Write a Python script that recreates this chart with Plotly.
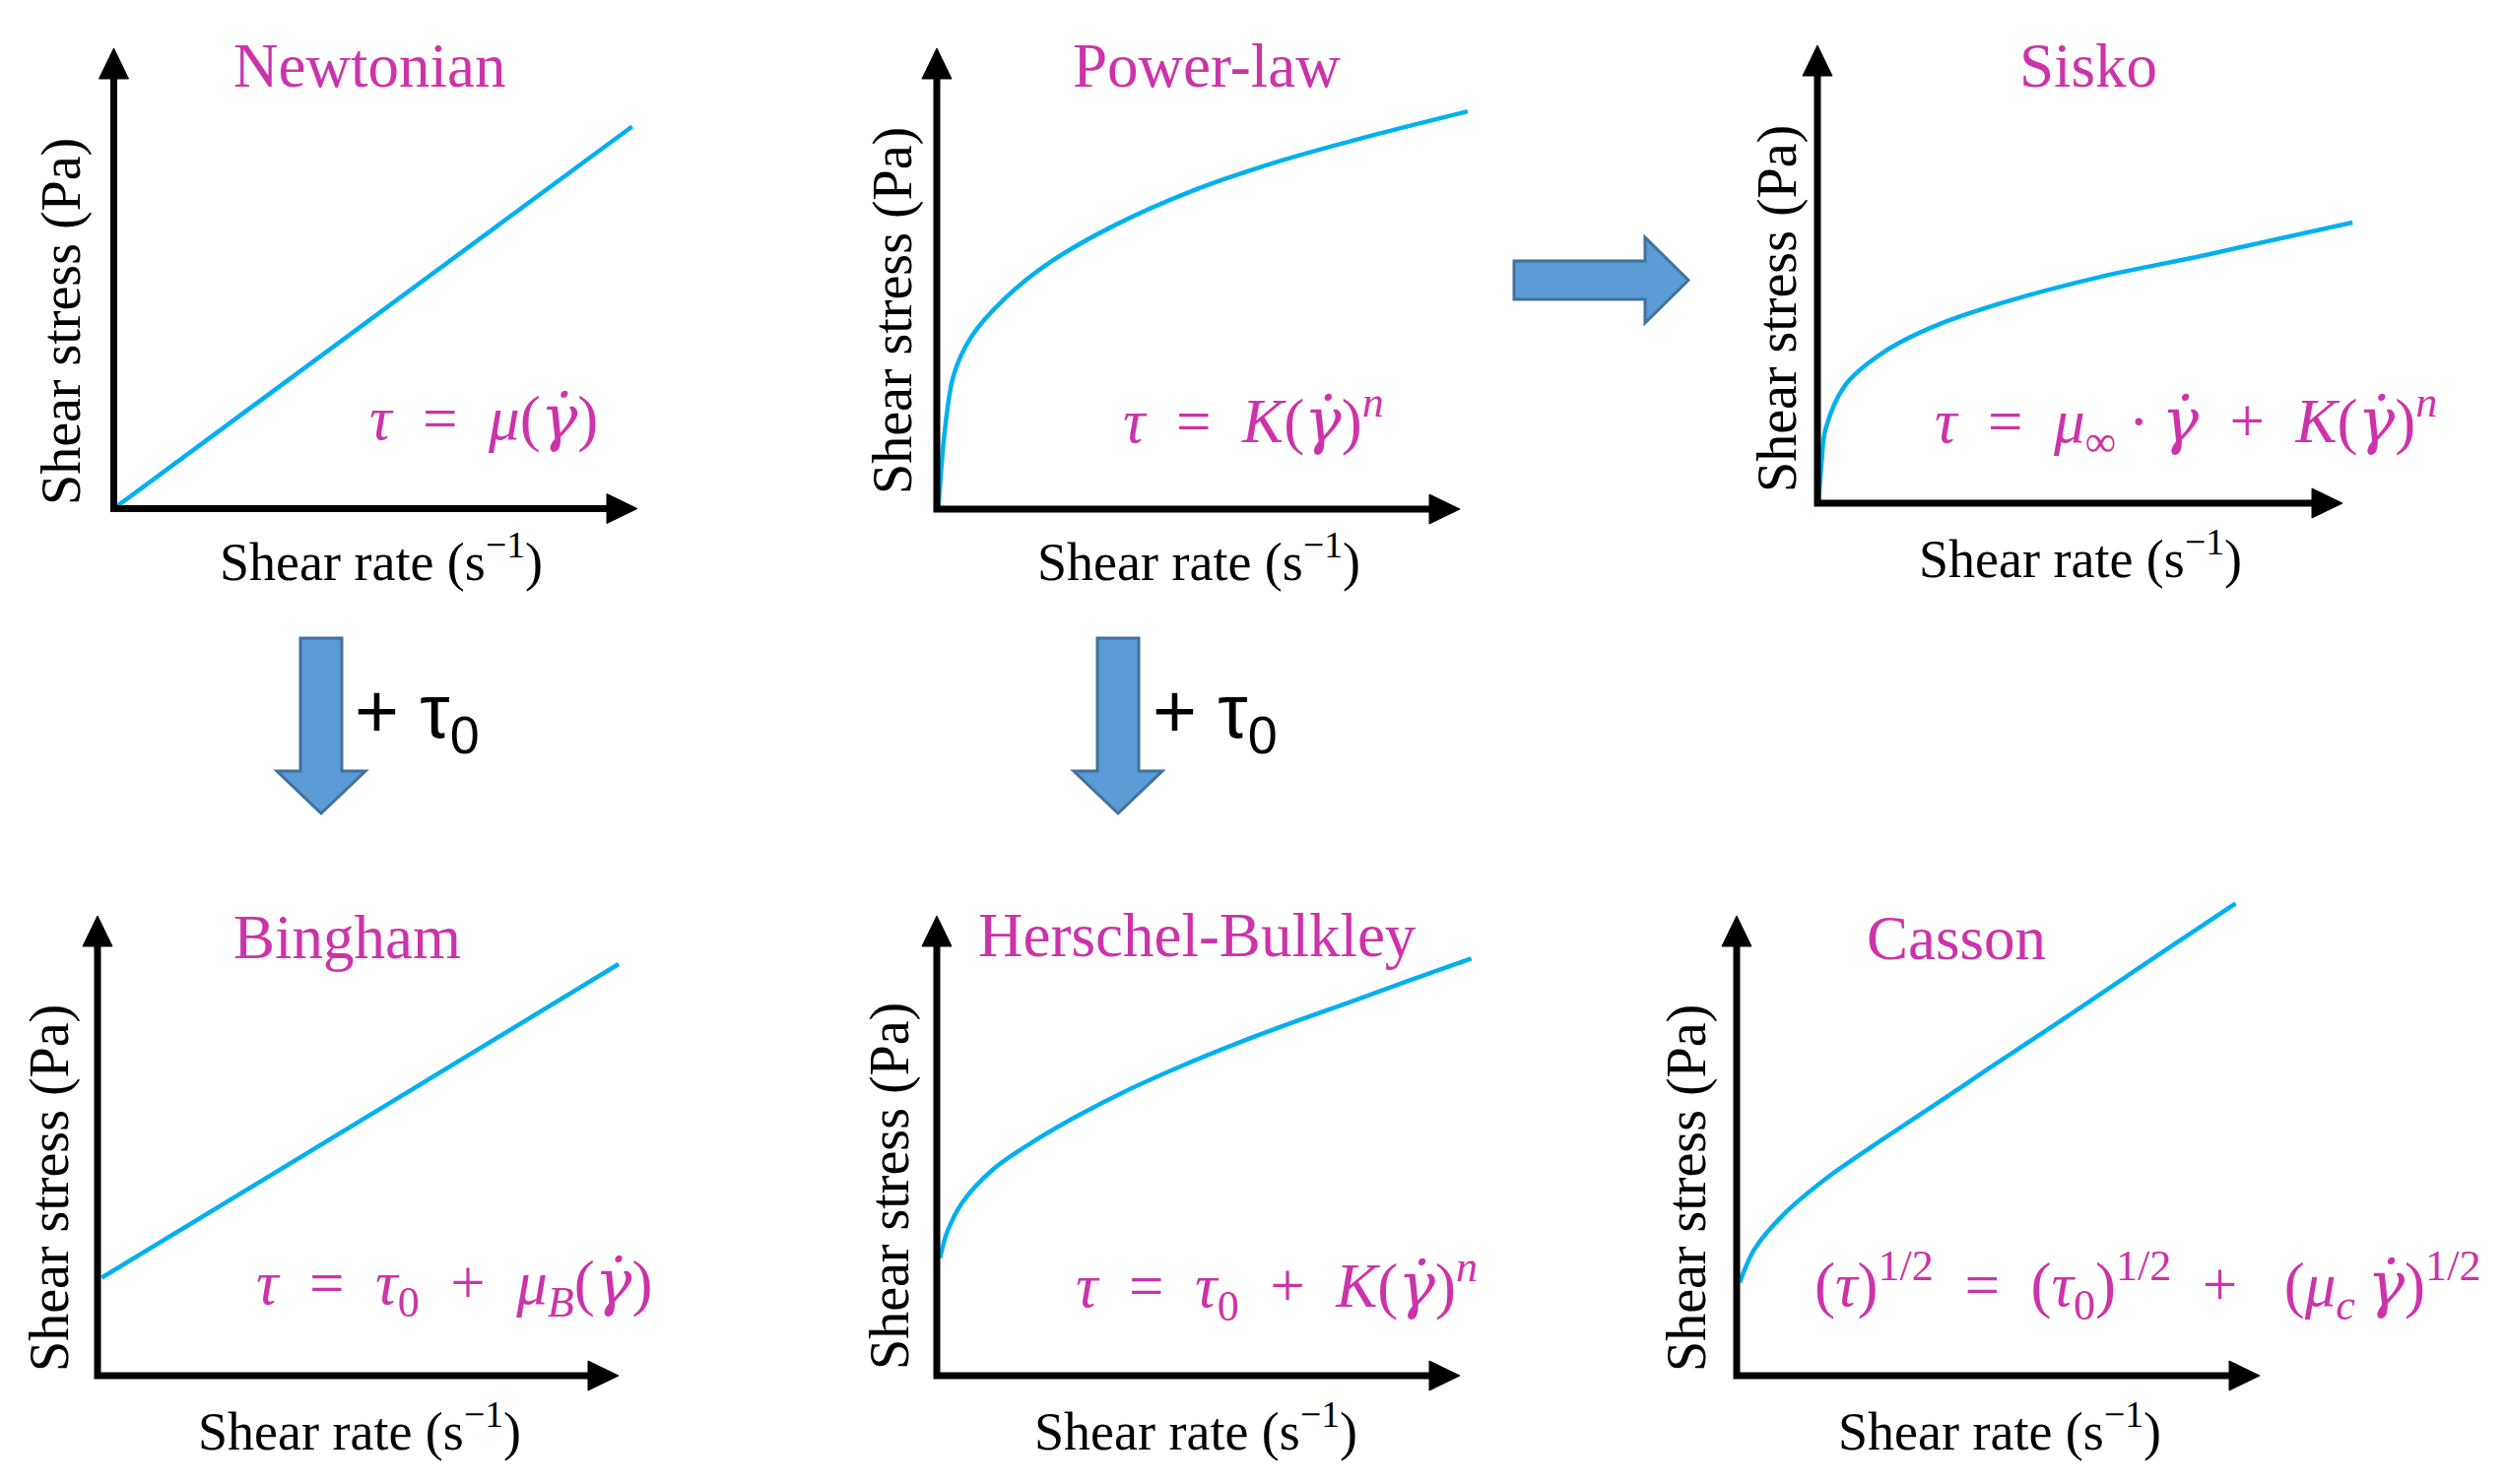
import plotly.graph_objects as go

W, H = 2544, 1507          # browser window
OFF = 8                    # default page body margin
FW, FH = W - 2 * OFF, H - 2 * OFF   # figure size that fits inside the margins

# ---------------- data (values along each drawn axis, 0 = origin, 100 = arrow tip) -------------
newtonian_x = [0, 99]
newtonian_y = [0, 83]

power_law_x = [0.3, 0.8, 1.5, 3.2, 6.6, 13.3, 21.7, 33.5, 48.7, 65.5, 82.3, 101.5]
power_law_y = [0, 8, 16.7, 29, 37.4, 46, 53.6, 61.3, 69, 75.5, 80.8, 86.3]

sisko_x = [0.2, 0.8, 1.5, 5.3, 12.9, 23, 35.6, 54.5, 73.5, 101.9]
sisko_y = [0, 9, 16, 25.8, 33.2, 39, 43.9, 49.6, 54.1, 61.3]

bingham_x = [0.8, 100]
bingham_y = [21.3, 89.5]

hb_x = [0.6, 2.0, 4.9, 10.7, 17.9, 26.6, 36.7, 46.9, 57.7, 68.5, 79.4, 90.2, 102.2]
hb_y = [25.6, 31.3, 37.7, 44.8, 50.5, 56.3, 62.2, 67.4, 72.4, 77.0, 81.4, 85.9, 90.7]

casson_x = [0.6, 3.4, 9.1, 17.1, 26.2, 37.6, 49, 60.4, 71.8, 83.1, 95.4]
casson_y = [20.3, 27.5, 35.2, 42.9, 50.1, 58.7, 67.4, 76, 84.7, 93.4, 102.7]

GD = "<span style=\"font-family:'DejaVu Serif'\"><i>γ̇</i></span>"   # gamma-dot
titles = ["Newtonian", "Power-law", "Sisko", "Bingham", "Herschel-Bulkley", "Casson"]
formulas = [
    f"<i>τ</i>\u2002=\u2002<i>μ</i>({GD})",
    f"<i>τ</i>\u2002=\u2002<i>K</i>({GD})<sup><i>n</i></sup>",
    f"<i>τ</i>\u2002=\u2002<i>μ</i><sub>∞</sub>\u2009·\u2009{GD}\u2002+\u2002<i>K</i>({GD})<sup><i>n</i></sup>",
    f"<i>τ</i>\u2002=\u2002<i>τ</i><sub>0</sub>\u2002+\u2002<i>μ</i><sub><i>B</i></sub>({GD})",
    f"<i>τ</i>\u2002=\u2002<i>τ</i><sub>0</sub>\u2002+\u2002<i>K</i>({GD})<sup><i>n</i></sup>",
    f"(<i>τ</i>)<sup>1/2</sup>\u2002=\u2002(<i>τ</i><sub>0</sub>)<sup>1/2</sup>\u2002+\u2002 (<i>μ</i><sub><i>c</i></sub>\u2009{GD})<sup>1/2</sup>",
]
x_label = "Shear rate (s<sup>−1</sup>)"
y_label = "Shear stress (Pa)"
shift_label = "+ τ<sub>0</sub>"

series = [
    (newtonian_x, newtonian_y),
    (power_law_x, power_law_y),
    (sisko_x, sisko_y),
    (bingham_x, bingham_y),
    (hb_x, hb_y),
    (casson_x, casson_y),
]

# ---------------- layout geometry (page pixels) ----------------
panels = [
    dict(ox=115.5, oy=516.5, tx=647, ty=49, title=(375, 67), formula=(491, 424), xl=(387, 566), yl=(62, 327)),
    dict(ox=951, oy=517, tx=1482, ty=49, title=(1225, 67), formula=(1273, 424), xl=(1217, 566), yl=(906, 316)),
    dict(ox=1845, oy=511, tx=2378, ty=46, title=(2120, 67), formula=(2219, 428), xl=(2112, 564), yl=(1804, 314)),
    dict(ox=99, oy=1397, tx=628, ty=930, title=(352, 952), formula=(461, 1306), xl=(365, 1449), yl=(50, 1207)),
    dict(ox=951, oy=1397, tx=1482, ty=930, title=(1215, 950), formula=(1296, 1306), xl=(1214, 1449), yl=(903, 1205)),
    dict(ox=1763, oy=1397, tx=2294, ty=930, title=(1986, 953), formula=(2180, 1305), xl=(2030, 1449), yl=(1712, 1207)),
]

MAGENTA = "#CC33AA"
CURVE = "#00B0F0"
SERIF = "Liberation Serif"
LO, HI = -5, 110
HEAD_LEN, HEAD_HALF = 31, 15

fig = go.Figure()
layout = dict(width=FW, height=FH, margin=dict(l=0, r=0, t=0, b=0),
              paper_bgcolor="white", plot_bgcolor="rgba(0,0,0,0)", showlegend=False)
shapes = []
annotations = []


def px(x, y):
    return (x - OFF) / FW, 1 - (y - OFF) / FH


for i, (p, (xs, ys)) in enumerate(zip(panels, series), start=1):
    sx = (p["tx"] - p["ox"]) / 100.0
    sy = (p["oy"] - p["ty"]) / 100.0
    left = max(OFF, p["ox"] + LO * sx)
    right = min(OFF + FW, p["ox"] + HI * sx)
    bottom = min(OFF + FH, p["oy"] - LO * sy)
    top = max(OFF, p["oy"] - HI * sy)
    xrng = [(left - p["ox"]) / sx, (right - p["ox"]) / sx]
    yrng = [(p["oy"] - bottom) / sy, (p["oy"] - top) / sy]
    xd = [px(left, 0)[0], px(right, 0)[0]]
    yd = [px(0, bottom)[1], px(0, top)[1]]
    xk = "xaxis" if i == 1 else f"xaxis{i}"
    yk = "yaxis" if i == 1 else f"yaxis{i}"
    xr = "x" if i == 1 else f"x{i}"
    yr = "y" if i == 1 else f"y{i}"
    layout[xk] = dict(domain=xd, range=xrng, visible=False, fixedrange=True, anchor=yr)
    layout[yk] = dict(domain=yd, range=yrng, visible=False, fixedrange=True, anchor=xr)

    fig.add_trace(go.Scatter(x=xs, y=ys, mode="lines", xaxis=xr, yaxis=yr,
                             line=dict(color=CURVE, width=4.5, shape="spline", smoothing=0.95),
                             hoverinfo="skip"))

    hx = HEAD_LEN / sx
    hy = HEAD_LEN / sy
    wx = HEAD_HALF / sx
    wy = HEAD_HALF / sy
    shapes.append(dict(type="path", xref=xr, yref=yr,
                       path=f"M 0,{100 - hy + 0.5} L 0,0 L {100 - hx + 0.5},0",
                       line=dict(color="black", width=7), layer="above"))
    shapes.append(dict(type="path", xref=xr, yref=yr,
                       path=f"M {-wx},{100 - hy} L {wx},{100 - hy} L 0,100 Z",
                       fillcolor="black", line=dict(color="black", width=1), layer="above"))
    shapes.append(dict(type="path", xref=xr, yref=yr,
                       path=f"M {100 - hx},{-wy} L {100 - hx},{wy} L 100,0 Z",
                       fillcolor="black", line=dict(color="black", width=1), layer="above"))

    tx_, ty_ = px(*p["title"])
    annotations.append(dict(x=tx_, y=ty_, xref="paper", yref="paper", text=titles[i - 1],
                            showarrow=False, xanchor="center", yanchor="middle",
                            font=dict(family=SERIF, size=63, color=MAGENTA)))
    fx, fy = px(*p["formula"])
    annotations.append(dict(x=fx, y=fy, xref="paper", yref="paper", text=formulas[i - 1],
                            showarrow=False, xanchor="center", yanchor="middle",
                            font=dict(family=SERIF, size=63, color=MAGENTA)))
    lx, ly = px(*p["xl"])
    annotations.append(dict(x=lx, y=ly, xref="paper", yref="paper", text=x_label,
                            showarrow=False, xanchor="center", yanchor="middle",
                            font=dict(family=SERIF, size=54, color="black")))
    vx, vy = px(*p["yl"])
    annotations.append(dict(x=vx, y=vy, xref="paper", yref="paper", text=y_label,
                            showarrow=False, xanchor="center", yanchor="middle", textangle=-90,
                            font=dict(family=SERIF, size=56, color="black")))

# ---------------- block arrows (page pixels) ----------------
FILL, EDGE = "#5B9BD5", "#41719C"


def poly(points):
    parts = []
    for k, (x, y) in enumerate(points):
        X, Y = px(x, y)
        parts.append(("M" if k == 0 else "L") + f" {X},{Y}")
    return " ".join(parts) + " Z"


right_arrow = [(1537, 265), (1670, 265), (1670, 241), (1714, 284.5), (1670, 328), (1670, 304), (1537, 304)]
shapes.append(dict(type="path", xref="paper", yref="paper", path=poly(right_arrow),
                   fillcolor=FILL, line=dict(color=EDGE, width=3)))
for cx in (326, 1135):
    down = [(cx - 21, 648), (cx + 21, 648), (cx + 21, 783), (cx + 45, 783), (cx, 826),
            (cx - 45, 783), (cx - 21, 783)]
    shapes.append(dict(type="path", xref="paper", yref="paper", path=poly(down),
                       fillcolor=FILL, line=dict(color=EDGE, width=3)))

for lxp in (358, 1168):
    X, Y = px(lxp, 727)
    annotations.append(dict(x=X, y=Y, xref="paper", yref="paper", text=shift_label,
                            showarrow=False, xanchor="left", yanchor="middle",
                            font=dict(family="Liberation Sans", size=77, color="black")))

layout["shapes"] = shapes
layout["annotations"] = annotations
fig.update_layout(**layout)
fig.write_html("out.html")
